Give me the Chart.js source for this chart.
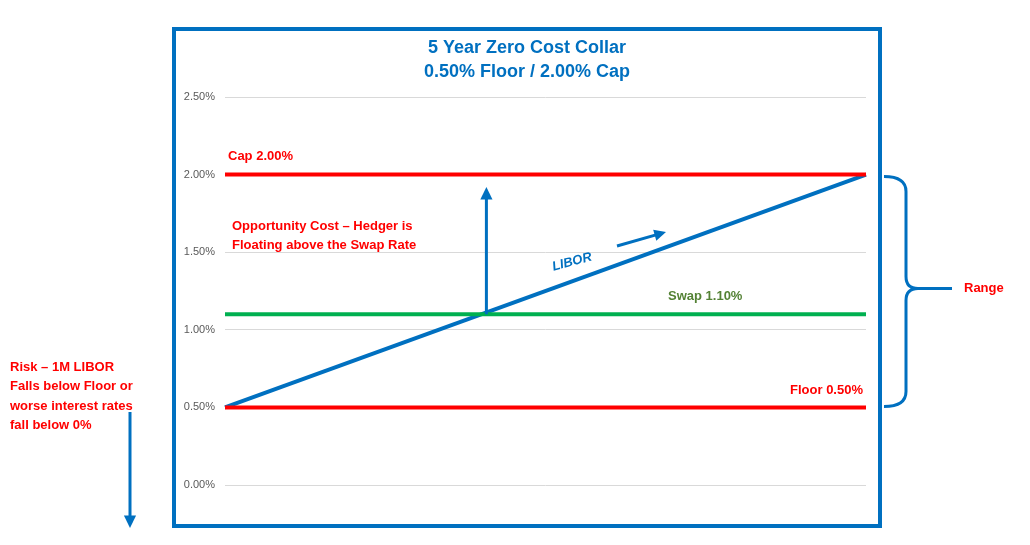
<!DOCTYPE html>
<html>
<head>
<meta charset="utf-8">
<script src="https://cdn.jsdelivr.net/npm/chart.js@4/dist/chart.umd.min.js"></script>
<style>
  html, body { margin: 0; padding: 0; background: #fff; }
  #wrap { width: 1030px; height: 545px; position: relative; }
</style>
</head>
<body>
<div id="wrap"><canvas id="c" width="1030" height="545"></canvas></div>
<script>
const labels = ["start", "end"];
const capValues = [2.0, 2.0];
const floorValues = [0.5, 0.5];
const swapValues = [1.1, 1.1];
const liborValues = [0.5, 2.0];
const yTicks = [0, 0.5, 1.0, 1.5, 2.0, 2.5];

const BLUE = "#0070C0", RED = "#FF0000", GREEN = "#00B050";

function arrow(ctx, x1, y1, x2, y2, color, w, head) {
  const a = Math.atan2(y2 - y1, x2 - x1);
  ctx.strokeStyle = color; ctx.fillStyle = color; ctx.lineWidth = w;
  ctx.beginPath();
  ctx.moveTo(x1, y1);
  ctx.lineTo(x2 - Math.cos(a) * head * 0.8, y2 - Math.sin(a) * head * 0.8);
  ctx.stroke();
  ctx.beginPath();
  ctx.moveTo(x2, y2);
  ctx.lineTo(x2 - head * Math.cos(a - 0.45), y2 - head * Math.sin(a - 0.45));
  ctx.lineTo(x2 - head * Math.cos(a + 0.45), y2 - head * Math.sin(a + 0.45));
  ctx.closePath(); ctx.fill();
}

const decor = {
  id: "decor",
  afterDraw(chart) {
    const ctx = chart.ctx, x = chart.scales.x, y = chart.scales.y;
    const L = chart.chartArea.left, R = chart.chartArea.right;
    ctx.save();
    // frame
    ctx.strokeStyle = BLUE; ctx.lineWidth = 4;
    ctx.strokeRect(174, 29, 706, 497);
    // title
    ctx.fillStyle = BLUE; ctx.font = "bold 18px Arial, 'Liberation Sans'";
    ctx.textAlign = "center"; ctx.textBaseline = "middle";
    ctx.fillText("5 Year Zero Cost Collar", 527, 48);
    ctx.fillText("0.50% Floor / 2.00% Cap", 527, 72);
    // labels
    ctx.font = "bold 13px Arial, 'Liberation Sans'";
    ctx.textAlign = "left"; ctx.fillStyle = RED;
    ctx.fillText("Cap 2.00%", L + 3, y.getPixelForValue(2.0) - 18);
    ctx.fillText("Opportunity Cost \u2013 Hedger is", 232, 226);
    ctx.fillText("Floating above the Swap Rate", 232, 245);
    ctx.textAlign = "right";
    ctx.fillText("Floor 0.50%", R - 3, y.getPixelForValue(0.5) - 17);
    ctx.fillStyle = "#548235"; ctx.textAlign = "left";
    ctx.fillText("Swap 1.10%", 668, y.getPixelForValue(1.1) - 18);
    // LIBOR label
    ctx.save();
    ctx.translate(572, 262); ctx.rotate(-0.26);
    ctx.fillStyle = BLUE; ctx.font = "italic bold 13px Arial, 'Liberation Sans'";
    ctx.textAlign = "center"; ctx.fillText("LIBOR", 0, 0);
    ctx.restore();
    arrow(ctx, 617, 246, 666, 232, BLUE, 3, 13);
    // up arrow at intersection
    const xi = x.getPixelForValue(0) + (x.getPixelForValue(1) - x.getPixelForValue(0)) * (1.1 - 0.5) / 1.5;
    arrow(ctx, xi + 5, y.getPixelForValue(1.1), xi + 5, y.getPixelForValue(1.92), BLUE, 3, 14);
    // Range brace
    const yt = y.getPixelForValue(2.0) + 2, yb = y.getPixelForValue(0.5) - 1, ym = (yt + yb) / 2 - 3;
    ctx.strokeStyle = BLUE; ctx.lineWidth = 3;
    ctx.beginPath();
    ctx.moveTo(884, yt);
    ctx.quadraticCurveTo(906, yt, 906, yt + 15);
    ctx.lineTo(906, ym - 12);
    ctx.quadraticCurveTo(906, ym, 918, ym);
    ctx.quadraticCurveTo(906, ym, 906, ym + 12);
    ctx.lineTo(906, yb - 15);
    ctx.quadraticCurveTo(906, yb, 884, yb);
    ctx.moveTo(918, ym); ctx.lineTo(952, ym);
    ctx.stroke();
    ctx.fillStyle = RED; ctx.font = "bold 13px Arial, 'Liberation Sans'";
    ctx.fillText("Range", 964, ym);
    // Risk
    ["Risk \u2013 1M LIBOR", "Falls below Floor or", "worse interest rates", "fall below 0%"].forEach((t, i) => {
      ctx.fillText(t, 10, 367 + i * 19.5);
    });
    arrow(ctx, 130, 412, 130, 528, BLUE, 3, 14);
    ctx.restore();
  }
};

const line = (data, color) => ({ data, borderColor: color, borderWidth: 4, pointRadius: 0, fill: false, tension: 0 });

new Chart(document.getElementById("c"), {
  type: "line",
  data: {
    labels,
    datasets: [line(capValues, RED), line(floorValues, RED), line(swapValues, GREEN), line(liborValues, BLUE)]
  },
  options: {
    responsive: false, animation: false,
    layout: { padding: { left: 170, right: 164, top: 97, bottom: 60 } },
    plugins: { legend: { display: false }, tooltip: { enabled: false } },
    scales: {
      x: { display: false, offset: false },
      y: {
        min: 0, max: 2.5,
        afterFit: s => { s.width = 55; },
        afterBuildTicks: s => { s.ticks = yTicks.map(v => ({ value: v })); },
        ticks: { color: "#595959", padding: 10, font: { size: 11, family: "Arial, 'Liberation Sans'" }, callback: v => v.toFixed(2) + "%" },
        grid: { color: "#D9D9D9", drawTicks: false },
        border: { display: false }
      }
    }
  },
  plugins: [decor]
});
</script>
</body>
</html>
